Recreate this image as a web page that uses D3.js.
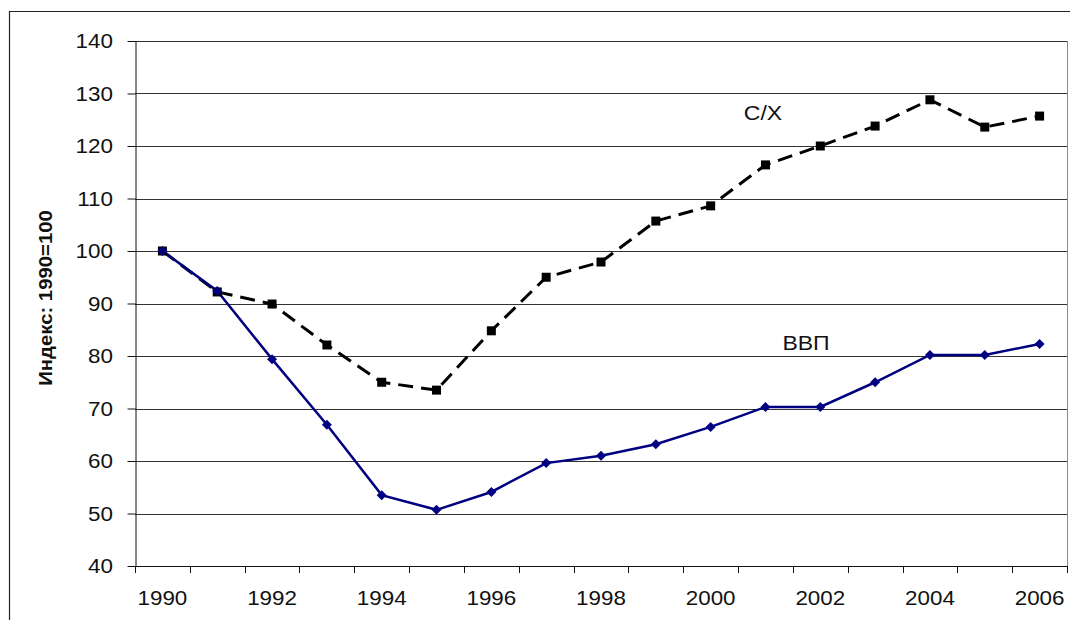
<!DOCTYPE html>
<html>
<head>
<meta charset="utf-8">
<script src="https://cdn.jsdelivr.net/npm/d3@7"></script>
<style>
  body { margin: 0; background: #fff; }
  text { font-family: "Liberation Sans", Arial, sans-serif; fill: #111; }
</style>
</head>
<body>
<svg id="chart" width="1070" height="620"></svg>
<script>
//-- data --//
var years = d3.range(1990, 2007);
var yearLabels = [1990, 1992, 1994, 1996, 1998, 2000, 2002, 2004, 2006];
var gdp = [100, 92.4, 79.4, 66.9, 53.5, 50.7, 54.1, 59.6, 61.0, 63.2, 66.5, 70.3, 70.3, 75.0, 80.2, 80.2, 82.3];
var agri = [100, 92.2, 89.9, 82.1, 75.0, 73.5, 84.8, 95.0, 97.9, 105.7, 108.6, 116.4, 120.0, 123.8, 128.8, 123.6, 125.7];
var yTicks = [40, 50, 60, 70, 80, 90, 100, 110, 120, 130, 140];
//-- data --//

var svg = d3.select("#chart"),
    margin = {top: 41, left: 135, bottom: 54, right: 3},
    width = +svg.attr("width"),
    height = +svg.attr("height");

// the original font looks a bit wide, so stretch text horizontally
var stretch = 1.15;

// outer frame (left + top visible)
svg.append("path")
    .attr("d", "M9.5,620 V11.5 H1070")
    .attr("fill", "none")
    .attr("stroke", "#222")
    .attr("stroke-width", 1.2);

var x = d3.scaleBand()
    .domain(years)
    .range([margin.left, width - margin.right]);

var y = d3.scaleLinear()
    .domain([40, 140])
    .range([height - margin.bottom, margin.top]);

// gridlines
svg.append("g")
  .selectAll("line")
  .data(yTicks.filter(d => d > 40))
  .enter().append("line")
    .attr("x1", margin.left)
    .attr("x2", width - margin.right)
    .attr("y1", d => Math.round(y(d)) + 0.5)
    .attr("y2", d => Math.round(y(d)) + 0.5)
    .attr("stroke", "#333")
    .attr("stroke-width", 1);

// right border of plot area
svg.append("line")
    .attr("x1", width - margin.right + 0.5)
    .attr("x2", width - margin.right + 0.5)
    .attr("y1", margin.top)
    .attr("y2", height - margin.bottom)
    .attr("stroke", "#888");

//-- y axis --//
var yAxis = svg.append("g")
    .attr("transform", `translate(${margin.left + 0.5},0)`)
    .call(d3.axisLeft(y).tickValues(yTicks).tickSize(8).tickFormat("").tickSizeOuter(0));
yAxis.select(".domain").attr("stroke", "#111");
yAxis.selectAll("line").attr("stroke", "#111");

svg.append("g").selectAll("text")
    .data(yTicks)
    .enter().append("text")
    .attr("transform", d => `translate(113,${y(d)}) scale(${stretch},1)`)
    .attr("dy", "0.36em")
    .attr("text-anchor", "end")
    .style("font-size", "19.5px")
    .text(d => d);

//-- x axis --//
var xAxis = svg.append("g")
    .attr("transform", `translate(0,${height - margin.bottom})`);
xAxis.append("line")
    .attr("x1", margin.left).attr("x2", width - margin.right)
    .attr("y1", 0.5).attr("y2", 0.5)
    .attr("stroke", "#111");
xAxis.selectAll(".tk")
    .data(years.concat([2007]))
    .enter().append("line")
    .attr("class", "tk")
    .attr("x1", d => Math.round(d === 2007 ? width - margin.right : x(d)) + 0.5)
    .attr("x2", d => Math.round(d === 2007 ? width - margin.right : x(d)) + 0.5)
    .attr("y1", 0).attr("y2", 7)
    .attr("stroke", "#111");
xAxis.selectAll("text")
    .data(yearLabels)
    .enter().append("text")
    .attr("transform", d => `translate(${x(d) + x.bandwidth() / 2},39) scale(1.12,1)`)
    .attr("text-anchor", "middle")
    .style("font-size", "20px")
    .text(d => d);

// y axis title
svg.append("text")
    .attr("transform", "translate(52,298) rotate(-90) scale(1.07,1)")
    .attr("text-anchor", "middle")
    .style("font-size", "19px")
    .style("font-weight", "bold")
    .text("Индекс: 1990=100");

//-- lines --//
var cx = (d, i) => x(years[i]) + x.bandwidth() / 2;
var line = d3.line().x(cx).y(d => y(d));

svg.append("path")
    .datum(agri)
    .attr("d", line)
    .attr("fill", "none")
    .attr("stroke", "#000")
    .attr("stroke-width", 3)
    .attr("stroke-dasharray", "15,8");

svg.append("path")
    .datum(gdp)
    .attr("d", line)
    .attr("fill", "none")
    .attr("stroke", "#000080")
    .attr("stroke-width", 2.5);

// markers
svg.append("g").selectAll("rect")
    .data(agri)
    .enter().append("rect")
    .attr("x", (d, i) => cx(d, i) - 4.5)
    .attr("y", d => y(d) - 4.5)
    .attr("width", 9)
    .attr("height", 9)
    .attr("fill", "#000");

svg.append("g").selectAll("path")
    .data(gdp)
    .enter().append("path")
    .attr("transform", (d, i) => `translate(${cx(d, i)},${y(d)})`)
    .attr("d", "M0,-5 L5,0 L0,5 L-5,0 Z")
    .attr("fill", "#000080");

// series labels
svg.append("text")
    .attr("transform", `translate(763,120) scale(${stretch},1)`)
    .attr("text-anchor", "middle")
    .style("font-size", "20px")
    .text("С/Х");

svg.append("text")
    .attr("transform", `translate(806,350) scale(${stretch},1)`)
    .attr("text-anchor", "middle")
    .style("font-size", "20px")
    .text("ВВП");
</script>
</body>
</html>
